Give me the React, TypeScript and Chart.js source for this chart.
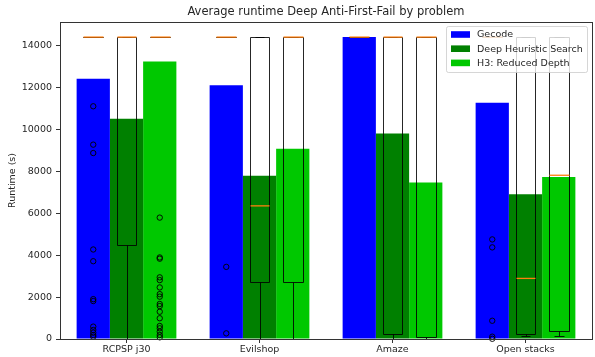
import React, { useEffect, useRef } from "react";
import { Chart, registerables } from "chart.js";

Chart.register(...registerables);

const FONT = "'DejaVu Sans', 'Liberation Sans', sans-serif";
const TEXT = "#262626";

const chartTitle = "Average runtime Deep Anti-First-Fail by problem";
const yAxisLabel = "Runtime (s)";
const problems = ["RCPSP j30", "Evilshop", "Amaze", "Open stacks"];
const seriesNames = ["Gecode", "Deep Heuristic Search", "H3: Reduced Depth"];
const seriesColors = ["#0000ff", "#008000", "#00c800"];

// Mean runtime per problem (s)
const gecodeMean = [12410, 12100, 14400, 11270];
const deepMean = [10500, 7790, 9800, 6900];
const h3Mean = [13240, 9080, 7460, 7730];

// Distribution per problem: [whiskerLow, q1, median, q3, whiskerHigh]
const gecodeBox = [
  [14400, 14400, 14400, 14400, 14400],
  [14400, 14400, 14400, 14400, 14400],
  [14400, 14400, 14400, 14400, 14400],
  [14400, 14400, 14400, 14400, 14400],
];
const deepBox = [
  [0, 4490, 14400, 14400, 14400],
  [0, 2730, 6350, 14400, 14400],
  [10, 220, 14400, 14400, 14400],
  [130, 240, 2890, 14400, 14400],
];
const h3Box = [
  [14400, 14400, 14400, 14400, 14400],
  [0, 2730, 14400, 14400, 14400],
  [0, 100, 14400, 14400, 14400],
  [130, 400, 7810, 14400, 14400],
];

// Outlying runs per problem
const gecodeOutliers = [
  [11100, 9270, 8870, 4270, 3710, 1900, 1810, 590, 430, 300, 190, 110],
  [3440, 270],
  [],
  [4750, 4370, 870, 110, 10],
];
const deepOutliers = [[], [], [], []];
const h3Outliers = [
  [5790, 3890, 3830, 2940, 2810, 2460, 2140, 2020, 1670, 1570, 1300, 990, 620, 510, 350, 190, 80],
  [],
  [],
  [],
];

const yMax = 15120;
const yTickValues = [0, 2000, 4000, 6000, 8000, 10000, 12000, 14000];

const seriesMeans = [gecodeMean, deepMean, h3Mean];
const seriesBoxes = [gecodeBox, deepBox, h3Box];
const seriesOutliers = [gecodeOutliers, deepOutliers, h3Outliers];

const crisp = (v: number) => Math.round(v) + 0.5;

const boxPlugin = {
  id: "boxes",
  afterDatasetsDraw(chart: any) {
    const ctx = chart.ctx as CanvasRenderingContext2D;
    const y = chart.scales.y;
    ctx.save();
    seriesBoxes.forEach((boxes, di) => {
      const meta = chart.getDatasetMeta(di);
      boxes.forEach((b, ci) => {
        const bar = meta.data[ci] as any;
        const cx = bar.x;
        const w = bar.width * 0.6;
        const [lo, q1, med, q3, hi] = b;
        const x0 = crisp(cx - w / 2);
        const x1 = crisp(cx + w / 2);
        const xc = crisp(cx);
        const pLo = crisp(y.getPixelForValue(lo));
        const pQ1 = crisp(y.getPixelForValue(q1));
        const pMed = y.getPixelForValue(med);
        const pQ3 = crisp(y.getPixelForValue(q3));
        const pHi = crisp(y.getPixelForValue(hi));
        const cap = w / 4;

        ctx.strokeStyle = "rgba(0,0,0,0.85)";
        ctx.lineWidth = 1;
        ctx.beginPath();
        // box
        ctx.rect(x0, pQ3, x1 - x0, pQ1 - pQ3);
        // whiskers
        ctx.moveTo(xc, pQ1);
        ctx.lineTo(xc, pLo);
        ctx.moveTo(xc, pQ3);
        ctx.lineTo(xc, pHi);
        // caps
        ctx.moveTo(crisp(cx - cap), pLo);
        ctx.lineTo(crisp(cx + cap), pLo);
        ctx.moveTo(crisp(cx - cap), pHi);
        ctx.lineTo(crisp(cx + cap), pHi);
        ctx.stroke();

        // median
        ctx.strokeStyle = "#ff7f0e";
        ctx.lineWidth = 1.3;
        ctx.beginPath();
        ctx.moveTo(x0, pMed);
        ctx.lineTo(x1, pMed);
        ctx.stroke();

        // outliers
        ctx.strokeStyle = "rgba(0,0,0,0.9)";
        ctx.lineWidth = 1;
        seriesOutliers[di][ci].forEach((v) => {
          ctx.beginPath();
          ctx.arc(cx, y.getPixelForValue(v), 2.7, 0, Math.PI * 2);
          ctx.stroke();
        });
      });
    });
    ctx.restore();
  },
  afterDraw(chart: any) {
    const ctx = chart.ctx as CanvasRenderingContext2D;
    const area = chart.chartArea;
    ctx.save();
    // frame
    ctx.strokeStyle = "#333";
    ctx.lineWidth = 1;
    ctx.strokeRect(crisp(area.left), crisp(area.top), Math.round(area.right - area.left), Math.round(area.bottom - area.top));

    // title
    ctx.fillStyle = TEXT;
    ctx.font = `11.5px ${FONT}`;
    ctx.textAlign = "center";
    ctx.textBaseline = "middle";
    ctx.fillText(chartTitle, (area.left + area.right) / 2, 12.5);

    // legend
    const lx = 446.5, ly = 26.5, lw = 141, lh = 46;
    ctx.fillStyle = "rgba(255,255,255,0.8)";
    ctx.strokeStyle = "rgba(204,204,204,0.8)";
    ctx.lineWidth = 1;
    ctx.beginPath();
    (ctx as any).roundRect(lx, ly, lw, lh, 2);
    ctx.fill();
    ctx.stroke();
    ctx.font = `9.5px ${FONT}`;
    ctx.textAlign = "left";
    seriesNames.forEach((name, i) => {
      const cy = 34.5 + i * 14.2;
      ctx.fillStyle = seriesColors[i];
      ctx.fillRect(451, cy - 3.3, 19, 6.6);
      ctx.fillStyle = TEXT;
      ctx.fillText(name, 477, cy + 0.5);
    });
    ctx.restore();
  },
};

export default function App() {
  const canvasRef = useRef<HTMLCanvasElement | null>(null);

  useEffect(() => {
    document.body.style.margin = "0";
    const canvas = canvasRef.current;
    if (!canvas) return;
    const chart = new Chart(canvas, {
      type: "bar",
      data: {
        labels: problems,
        datasets: seriesNames.map((name, i) => ({
          label: name,
          data: seriesMeans[i],
          backgroundColor: seriesColors[i],
          borderWidth: 0,
          categoryPercentage: 0.75,
          barPercentage: 1.0,
        })),
      },
      options: {
        animation: false,
        responsive: false,
        devicePixelRatio: 1,
        layout: { padding: { top: 22, right: 3, left: 0, bottom: 0 } },
        plugins: {
          legend: { display: false },
          title: { display: false },
          tooltip: { enabled: false },
        },
        scales: {
          x: {
            ticks: { font: { family: FONT, size: 9.5 }, color: TEXT, padding: 1 },
            grid: { offset: false, drawOnChartArea: false, drawTicks: true, tickLength: 4, color: "#333" },
            border: { display: false },
            afterFit(s: any) {
              s.height = 18;
            },
          },
          y: {
            min: 0,
            max: yMax,
            ticks: {
              font: { family: FONT, size: 9.5 },
              color: TEXT,
              padding: 4,
              callback: (v: any) => String(v),
            },
            afterBuildTicks(s: any) {
              s.ticks = yTickValues.map((v) => ({ value: v }));
            },
            grid: { drawOnChartArea: false, drawTicks: true, tickLength: 4, color: "#333" },
            border: { display: false },
            title: {
              display: true,
              text: yAxisLabel,
              font: { family: FONT, size: 9.5 },
              color: TEXT,
              padding: { top: 7, bottom: 0 },
            },
            afterFit(s: any) {
              s.width = 60;
            },
          },
        },
      },
      plugins: [boxPlugin],
    });
    return () => chart.destroy();
  }, []);

  return (
    <div style={{ width: 595, height: 357, background: "#fff" }}>
      <canvas ref={canvasRef} width={595} height={357} style={{ display: "block" }} />
    </div>
  );
}
